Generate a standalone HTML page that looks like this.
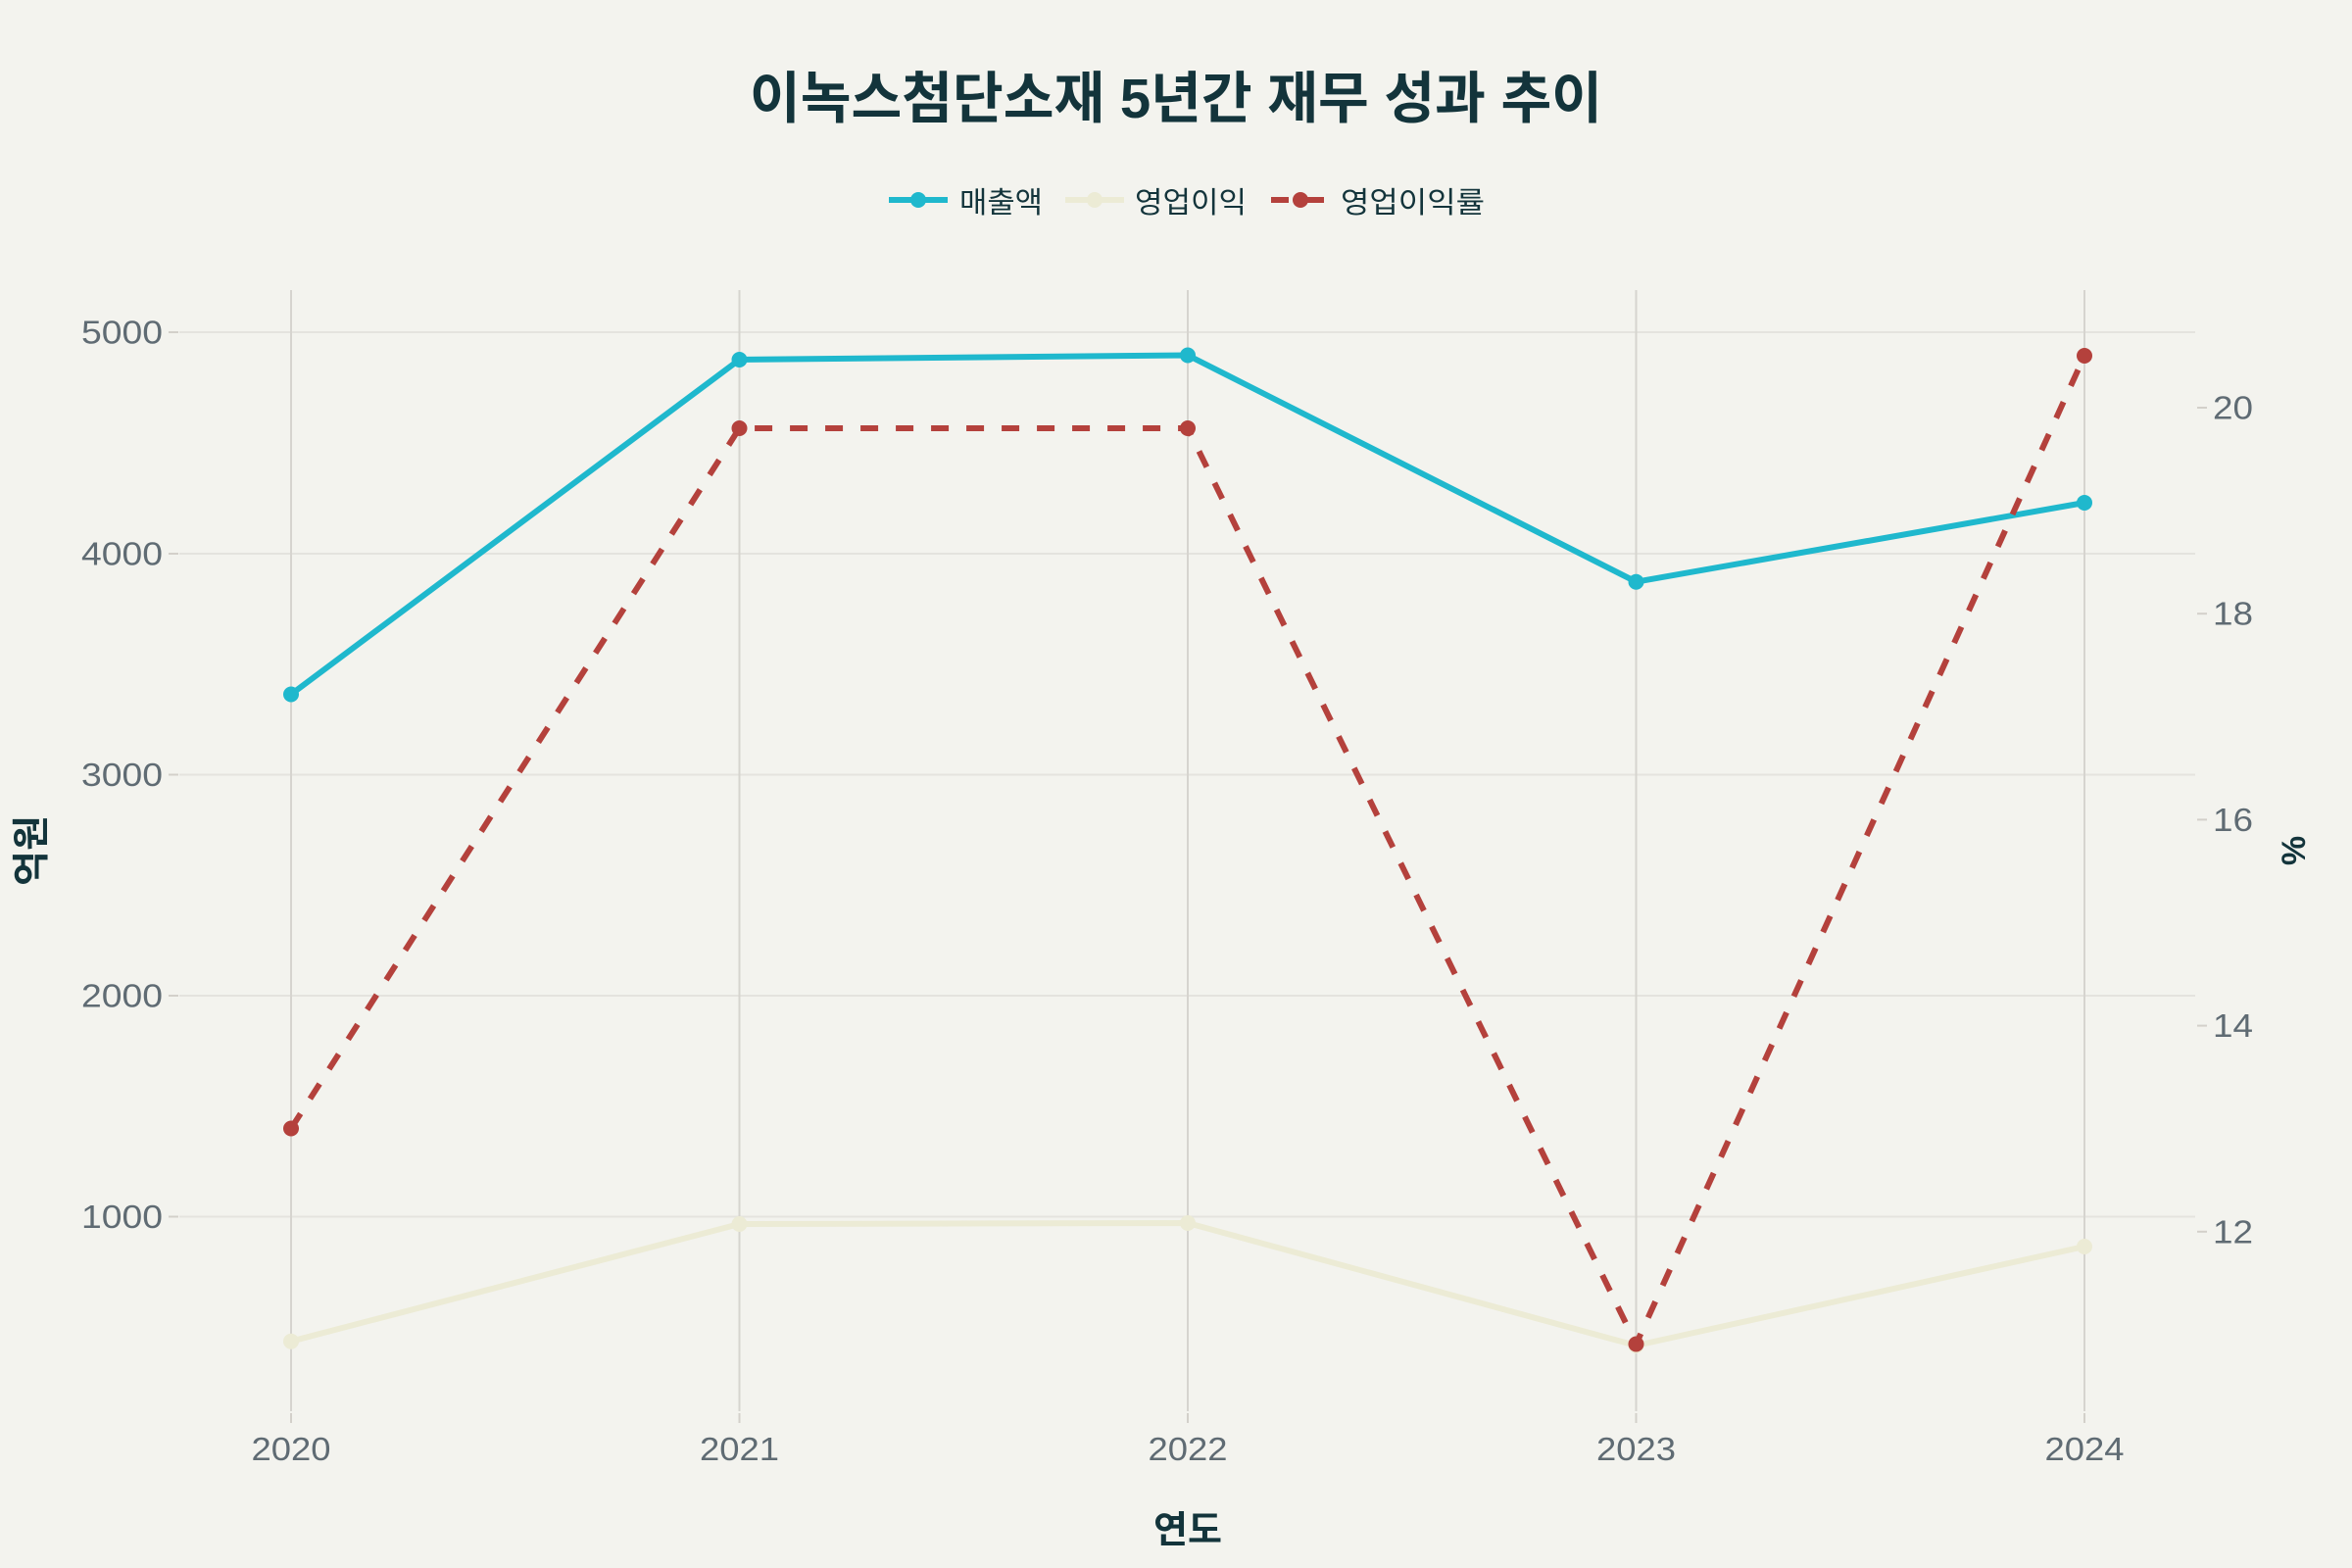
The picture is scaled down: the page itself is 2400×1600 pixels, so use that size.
<!DOCTYPE html>
<html>
<head>
<meta charset="utf-8">
<style>
  html, body { margin:0; padding:0; background:#f3f3ee; }
  svg { display:block; }
  .tick { font-family:"Liberation Sans","Noto Sans CJK KR",sans-serif; font-size:33px; fill:#5f6b73; }
  .kr { font-family:"Liberation Sans","Noto Sans CJK KR",sans-serif; fill:#13343b; }
</style>
</head>
<body>
<svg width="2400" height="1600" viewBox="0 0 2400 1600" xmlns="http://www.w3.org/2000/svg">
  <rect x="0" y="0" width="2400" height="1600" fill="#f3f3ee"/>

  <!-- Title -->
  <text class="kr" x="1200" y="120" text-anchor="middle" font-size="57" font-weight="bold" textLength="870" lengthAdjust="spacingAndGlyphs">이녹스첨단소재 5년간 재무 성과 추이</text>

  <!-- Legend -->
  <line x1="907" y1="204" x2="967" y2="204" stroke="#1fb8cd" stroke-width="6"/>
  <circle cx="937" cy="204" r="8" fill="#1fb8cd"/>
  <text class="kr" x="979" y="217" font-size="30" textLength="85" lengthAdjust="spacingAndGlyphs">매출액</text>

  <line x1="1087" y1="204" x2="1147" y2="204" stroke="#ecebd5" stroke-width="6"/>
  <circle cx="1117" cy="204" r="8" fill="#ecebd5"/>
  <text class="kr" x="1158" y="217" font-size="30" textLength="114" lengthAdjust="spacingAndGlyphs">영업이익</text>

  <line x1="1297" y1="204" x2="1357" y2="204" stroke="#b4413c" stroke-width="6" stroke-dasharray="18,18"/>
  <circle cx="1327" cy="204" r="8" fill="#b4413c"/>
  <text class="kr" x="1368" y="217" font-size="30" textLength="147" lengthAdjust="spacingAndGlyphs">영업이익률</text>

  <!-- Horizontal gridlines (left axis) -->
  <g stroke="#e4e3de" stroke-width="2">
    <line x1="183" y1="339" x2="2240" y2="339"/>
    <line x1="183" y1="565" x2="2240" y2="565"/>
    <line x1="183" y1="790.5" x2="2240" y2="790.5"/>
    <line x1="183" y1="1016" x2="2240" y2="1016"/>
    <line x1="183" y1="1241.5" x2="2240" y2="1241.5"/>
  </g>
  <!-- Vertical gridlines -->
  <g stroke="#d6d4cf" stroke-width="2">
    <line x1="297" y1="296" x2="297" y2="1440"/>
    <line x1="754.5" y1="296" x2="754.5" y2="1440"/>
    <line x1="1212" y1="296" x2="1212" y2="1440"/>
    <line x1="1669.5" y1="296" x2="1669.5" y2="1440"/>
    <line x1="2127" y1="296" x2="2127" y2="1440"/>
  </g>

  <!-- Tick marks -->
  <g stroke="#d3d0ca" stroke-width="2">
    <line x1="172" y1="339" x2="182" y2="339"/>
    <line x1="172" y1="565" x2="182" y2="565"/>
    <line x1="172" y1="790.5" x2="182" y2="790.5"/>
    <line x1="172" y1="1016" x2="182" y2="1016"/>
    <line x1="172" y1="1241.5" x2="182" y2="1241.5"/>

    <line x1="2242" y1="416" x2="2252" y2="416"/>
    <line x1="2242" y1="626.2" x2="2252" y2="626.2"/>
    <line x1="2242" y1="836.4" x2="2252" y2="836.4"/>
    <line x1="2242" y1="1046.6" x2="2252" y2="1046.6"/>
    <line x1="2242" y1="1256.8" x2="2252" y2="1256.8"/>

    <line x1="297" y1="1442" x2="297" y2="1452"/>
    <line x1="754.5" y1="1442" x2="754.5" y2="1452"/>
    <line x1="1212" y1="1442" x2="1212" y2="1452"/>
    <line x1="1669.5" y1="1442" x2="1669.5" y2="1452"/>
    <line x1="2127" y1="1442" x2="2127" y2="1452"/>
  </g>

  <!-- Left tick labels -->
  <g class="tick" text-anchor="end">
    <text x="166" y="350.5" textLength="83" lengthAdjust="spacingAndGlyphs">5000</text>
    <text x="166" y="576.5" textLength="83" lengthAdjust="spacingAndGlyphs">4000</text>
    <text x="166" y="802" textLength="83" lengthAdjust="spacingAndGlyphs">3000</text>
    <text x="166" y="1027.5" textLength="83" lengthAdjust="spacingAndGlyphs">2000</text>
    <text x="166" y="1253" textLength="83" lengthAdjust="spacingAndGlyphs">1000</text>
  </g>
  <!-- Right tick labels -->
  <g class="tick" text-anchor="start">
    <text x="2258" y="427.5" textLength="41" lengthAdjust="spacingAndGlyphs">20</text>
    <text x="2258" y="637.7" textLength="41" lengthAdjust="spacingAndGlyphs">18</text>
    <text x="2258" y="847.9" textLength="41" lengthAdjust="spacingAndGlyphs">16</text>
    <text x="2258" y="1058.1" textLength="41" lengthAdjust="spacingAndGlyphs">14</text>
    <text x="2258" y="1268.3" textLength="41" lengthAdjust="spacingAndGlyphs">12</text>
  </g>
  <!-- Bottom tick labels -->
  <g class="tick" text-anchor="middle">
    <text x="297" y="1490" textLength="81" lengthAdjust="spacingAndGlyphs">2020</text>
    <text x="754.5" y="1490" textLength="81" lengthAdjust="spacingAndGlyphs">2021</text>
    <text x="1212" y="1490" textLength="81" lengthAdjust="spacingAndGlyphs">2022</text>
    <text x="1669.5" y="1490" textLength="81" lengthAdjust="spacingAndGlyphs">2023</text>
    <text x="2127" y="1490" textLength="81" lengthAdjust="spacingAndGlyphs">2024</text>
  </g>

  <!-- Axis titles -->
  <text class="kr" x="1212" y="1574" text-anchor="middle" font-size="38" font-weight="bold" textLength="70" lengthAdjust="spacingAndGlyphs">연도</text>
  <text class="kr" transform="translate(45,868) rotate(-90)" text-anchor="middle" font-size="38" font-weight="bold" textLength="72" lengthAdjust="spacingAndGlyphs">억원</text>
  <text class="kr" transform="translate(2352,868) rotate(-90)" text-anchor="middle" font-size="34" font-weight="bold">%</text>

  <!-- 매출액 -->
  <polyline points="297,708.5 754.5,367 1212,362.5 1669.5,593.7 2127,513" fill="none" stroke="#1fb8cd" stroke-width="6" stroke-linejoin="round"/>
  <g fill="#1fb8cd">
    <circle cx="297" cy="708.5" r="8"/>
    <circle cx="754.5" cy="367" r="8"/>
    <circle cx="1212" cy="362.5" r="8"/>
    <circle cx="1669.5" cy="593.7" r="8"/>
    <circle cx="2127" cy="513" r="8"/>
  </g>

  <!-- 영업이익 -->
  <polyline points="297,1368.7 754.5,1249 1212,1248 1669.5,1373 2127,1272" fill="none" stroke="#ecebd5" stroke-width="6" stroke-linejoin="round"/>
  <g fill="#ecebd5">
    <circle cx="297" cy="1368.7" r="8"/>
    <circle cx="754.5" cy="1249" r="8"/>
    <circle cx="1212" cy="1248" r="8"/>
    <circle cx="1669.5" cy="1373" r="8"/>
    <circle cx="2127" cy="1272" r="8"/>
  </g>

  <!-- 영업이익률 -->
  <polyline points="297,1151.5 754.5,437 1212,437 1669.5,1371.5 2127,363" fill="none" stroke="#b4413c" stroke-width="6" stroke-dasharray="18,18" stroke-linejoin="round"/>
  <g fill="#b4413c">
    <circle cx="297" cy="1151.5" r="8"/>
    <circle cx="754.5" cy="437" r="8"/>
    <circle cx="1212" cy="437" r="8"/>
    <circle cx="1669.5" cy="1371.5" r="8"/>
    <circle cx="2127" cy="363" r="8"/>
  </g>
</svg>
</body>
</html>
